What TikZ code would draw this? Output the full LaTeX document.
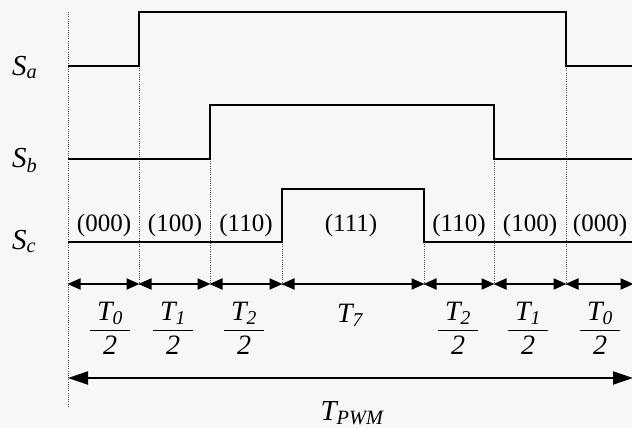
\documentclass[tikz,border=0pt]{standalone}
\usepackage{fontspec}
\setmainfont{Liberation Serif}
\usepackage{amsmath}
\usetikzlibrary{positioning, arrows.meta}

\begin{document}
\begin{tikzpicture}[
        x=1pt, y=-1pt,
        signal/.style={line width=2.8pt, line join=miter},
        guide/.style={gray!55!black, line width=0.9pt, dash pattern=on 1pt off 1.2pt},
        span/.style={{Triangle[length=13pt,width=11pt]}-{Triangle[length=13pt,width=11pt]}, line width=2pt, shorten <=-0.5pt, shorten >=-0.5pt},
        period/.style={{Triangle[length=20pt,width=13pt]}-{Triangle[length=20pt,width=13pt]}, line width=2pt},
        sname/.style={font=\fontsize{29}{34}\selectfont, inner sep=0pt, anchor=base west},
        state/.style={font=\fontsize{25}{30}\selectfont, inner sep=0pt},
        dur/.style={font=\fontsize{28}{33}\selectfont, inner sep=0pt}
    ]
    \useasboundingbox[fill=gray!6] (0,0) rectangle (632,428);

    % time marks on the arrow row
    \coordinate (p0) at (68,284);
    \coordinate (p1) at (139,284);
    \coordinate (p2) at (210,284);
    \coordinate (p3) at (282,284);
    \coordinate (p4) at (424,284);
    \coordinate (p5) at (494,284);
    \coordinate (p6) at (566,284);
    \coordinate (p7) at (633,284);
    \coordinate (q0) at (68,378);
    \coordinate (q1) at (633,378);

    % dotted guides
    \draw[guide] (p0 |- 0,12) -- (p0 |- 0,407);
    \draw[guide] (p1 |- 0,66) -- (p1);
    \draw[guide] (p2 |- 0,159) -- (p2);
    \draw[guide] (p3 |- 0,242) -- (p3);
    \draw[guide] (p4 |- 0,242) -- (p4);
    \draw[guide] (p5 |- 0,159) -- (p5);
    \draw[guide] (p6 |- 0,66) -- (p6);

    % switching signals
    \draw[signal] (68,66) -- (139,66) -- (139,12) -- (566,12) -- (566,66) -- (633,66);
    \draw[signal] (68,159) -- (210,159) -- (210,105) -- (494,105) -- (494,159) -- (633,159);
    \draw[signal] (68,242) -- (282,242) -- (282,189) -- (424,189) -- (424,242) -- (633,242);

    \node[sname] (Sa) at (12,75) {$\textit{S}_{\textit{a}}$};
    \node[sname] (Sb) at (12,167) {$\textit{S}_{\textit{b}}$};
    \node[sname] (Sc) at (12,249) {$\textit{S}_{\textit{c}}$};

    % switching states
    \node[state] (St1) at (104,225) {(000)};
    \node[state] (St2) at (175,225) {(100)};
    \node[state] (St3) at (246,225) {(110)};
    \node[state] (St4) at (351,225) {(111)};
    \node[state] (St5) at (459,225) {(110)};
    \node[state] (St6) at (530,225) {(100)};
    \node[state] (St7) at (600,225) {(000)};

    % interval arrows
    \draw[span] (p0) -- (p1);
    \draw[span] (p1) -- (p2);
    \draw[span] (p2) -- (p3);
    \draw[span] (p3) -- (p4);
    \draw[span] (p4) -- (p5);
    \draw[span] (p5) -- (p6);
    \draw[span] (p6) -- (p7);
    \draw[period] (q0) -- (q1);

    \node[dur] (D1) at (110,328) {$\dfrac{\;\textit{T}_{\textit{0}}\;}{\textit{2}}$};
    \node[dur] (D2) at (173,328) {$\dfrac{\;\textit{T}_{\textit{1}}\;}{\textit{2}}$};
    \node[dur] (D3) at (244,328) {$\dfrac{\;\textit{T}_{\textit{2}}\;}{\textit{2}}$};
    \node[dur, anchor=base] (D4) at (350,322) {$\textit{T}_{\textit{7}}$};
    \node[dur] (D5) at (458,328) {$\dfrac{\;\textit{T}_{\textit{2}}\;}{\textit{2}}$};
    \node[dur] (D6) at (528,328) {$\dfrac{\;\textit{T}_{\textit{1}}\;}{\textit{2}}$};
    \node[dur] (D7) at (600,328) {$\dfrac{\;\textit{T}_{\textit{0}}\;}{\textit{2}}$};
    \node[sname, anchor=base] (Tpwm) at (352,420) {$\textit{T}_{\textit{PWM}}$};

\end{tikzpicture}
\end{document}
